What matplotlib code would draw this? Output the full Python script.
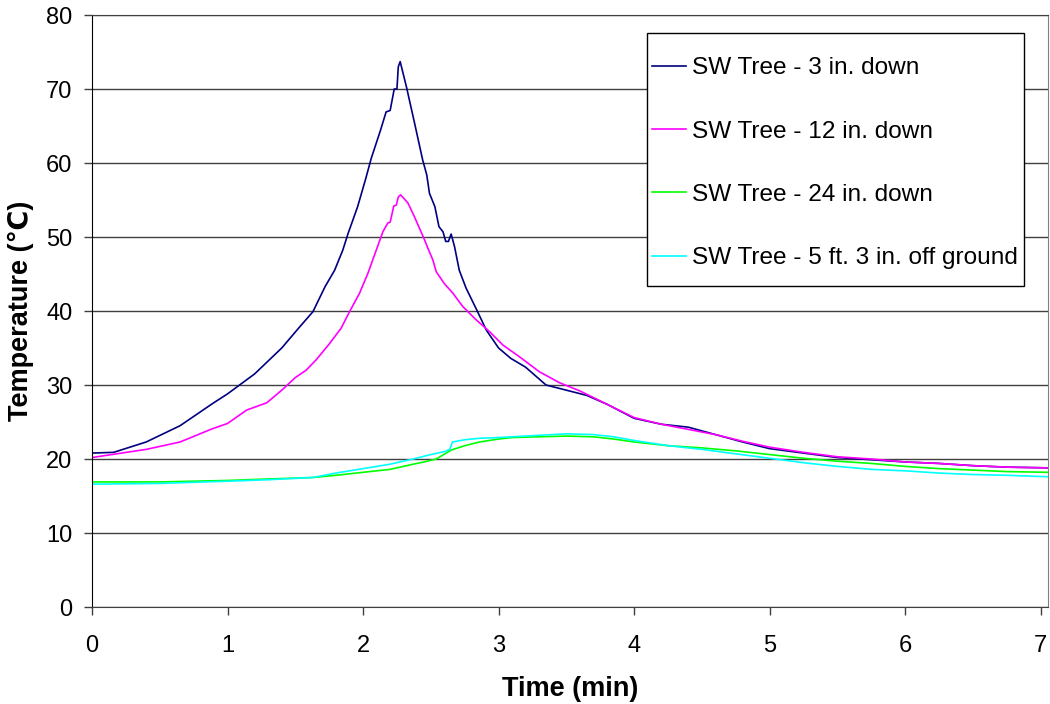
import matplotlib
matplotlib.use("Agg")
import matplotlib.pyplot as plt
from matplotlib.patches import Rectangle

plt.rcParams['font.family'] = ['Liberation Sans', 'DejaVu Sans']

labels = ["SW Tree - 3 in. down", "SW Tree - 12 in. down",
          "SW Tree - 24 in. down", "SW Tree - 5 ft. 3 in. off ground"]
colors = ["#000080", "#FF00FF", "#00FF00", "#00FFFF"]

t_3in = [0, 0.16, 0.4, 0.65, 0.89, 1.0, 1.2, 1.4, 1.53, 1.63, 1.72, 1.79, 1.85, 1.89,
         1.96, 2.02, 2.06, 2.13, 2.17, 2.20, 2.23, 2.25, 2.26, 2.274, 2.32, 2.38, 2.44,
         2.47, 2.49, 2.53, 2.56, 2.59, 2.61, 2.63, 2.65, 2.675, 2.71, 2.76, 2.84, 2.91,
         3.0, 3.09, 3.2, 3.35, 3.5, 3.65, 3.8, 4.0, 4.2, 4.4, 4.6, 4.8, 5.0, 5.25, 5.5,
         5.75, 6.0, 6.25, 6.5, 6.75, 7.06]
T_3in = [20.8, 20.9, 22.3, 24.5, 27.5, 28.8, 31.5, 35.0, 37.8, 39.9, 43.3, 45.5, 48.2, 50.5,
         54.1, 57.9, 60.6, 64.5, 66.9, 67.1, 70.0, 70.0, 73.0, 73.7, 70.3, 65.4, 60.4,
         58.4, 55.9, 54.1, 51.4, 50.7, 49.4, 49.4, 50.4, 48.7, 45.5, 43.1, 40.1, 37.4,
         35.0, 33.6, 32.4, 30.0, 29.3, 28.6, 27.4, 25.5, 24.7, 24.3, 23.3, 22.3, 21.4,
         20.8, 20.2, 19.9, 19.6, 19.4, 19.1, 18.9, 18.8]

t_12in = [0, 0.4, 0.65, 0.89, 1.0, 1.14, 1.29, 1.4, 1.5, 1.58, 1.654, 1.753, 1.839, 1.90,
          1.974, 2.036, 2.097, 2.146, 2.183, 2.20, 2.227, 2.245, 2.26, 2.277, 2.331, 2.38,
          2.454, 2.478, 2.515, 2.54, 2.60, 2.663, 2.736, 2.835, 2.934, 3.032, 3.155, 3.3,
          3.45, 3.6, 3.8, 4.0, 4.2, 4.4, 4.6, 4.8, 5.0, 5.25, 5.5, 5.75, 6.0, 6.25, 6.5,
          6.75, 7.06]
T_12in = [20.2, 21.3, 22.3, 24.1, 24.8, 26.6, 27.6, 29.3, 31.0, 32.0, 33.4, 35.6, 37.7, 39.9,
          42.4, 45.1, 48.2, 50.7, 51.9, 52.0, 54.2, 54.3, 55.4, 55.7, 54.6, 52.7,
          49.6, 48.5, 46.9, 45.3, 43.7, 42.4, 40.6, 38.8, 37.2, 35.4, 33.8, 31.8,
          30.3, 29.2, 27.4, 25.6, 24.7, 24.0, 23.3, 22.4, 21.6, 20.9, 20.3, 20.0, 19.6,
          19.4, 19.1, 18.9, 18.8]

t_24in = [0, 0.5, 1.0, 1.3, 1.63, 1.8, 2.0, 2.2, 2.37, 2.45, 2.54, 2.65, 2.75, 2.86, 3.0,
          3.1, 3.3, 3.5, 3.7, 3.85, 4.0, 4.25, 4.5, 4.75, 5.0, 5.25, 5.5, 5.75, 6.0, 6.25,
          6.5, 6.75, 7.06]
T_24in = [16.9, 16.9, 17.1, 17.3, 17.5, 17.8, 18.2, 18.6, 19.3, 19.6, 20.0, 21.2, 21.8, 22.3,
          22.7, 22.9, 23.0, 23.1, 23.0, 22.7, 22.3, 21.8, 21.5, 21.1, 20.6, 20.1, 19.7,
          19.4, 19.0, 18.7, 18.5, 18.3, 18.2]

t_5ft = [0, 0.5, 1.0, 1.3, 1.63, 1.8, 2.0, 2.2, 2.37, 2.5, 2.6, 2.64, 2.66, 2.75, 2.86, 3.0,
         3.1, 3.3, 3.5, 3.7, 3.85, 4.0, 4.25, 4.5, 4.75, 5.0, 5.25, 5.5, 5.75, 6.0, 6.25,
         6.5, 6.75, 7.06]
T_5ft = [16.6, 16.7, 17.0, 17.2, 17.5, 18.1, 18.7, 19.3, 20.0, 20.6, 21.0, 21.3, 22.3, 22.6,
         22.8, 22.9, 23.0, 23.2, 23.4, 23.3, 23.0, 22.5, 21.8, 21.3, 20.7, 20.1, 19.5,
         19.0, 18.6, 18.4, 18.1, 17.9, 17.8, 17.6]

x_ticks = [0, 1, 2, 3, 4, 5, 6, 7]
y_ticks = [0, 10, 20, 30, 40, 50, 60, 70, 80]

W, H = 1050, 704
fig = plt.figure(figsize=(W/100, H/100), dpi=100)
ax = fig.add_axes([92/W, (H-607)/H, (1048-92)/W, (607-15)/H])

series = [(t_3in, T_3in), (t_12in, T_12in), (t_24in, T_24in), (t_5ft, T_5ft)]
for (tt, TT), c, lab in zip(series, colors, labels):
    ax.plot(tt, TT, color=c, lw=1.2, label=lab)

ax.set_xlim(0, 7.054)
ax.set_ylim(0, 80)
ax.set_xticks(x_ticks)
ax.set_yticks(y_ticks)
ax.yaxis.grid(True, color="#404040", lw=1)
ax.set_axisbelow(True)
ax.tick_params(axis='both', labelsize=17, direction='out', length=6, width=1,
               color="#404040")
ax.tick_params(axis='y', pad=8)
ax.tick_params(axis='x', pad=14)
ax.spines['left'].set_color('black')
ax.spines['bottom'].set_color('#404040')
ax.spines['top'].set_color('#404040')
ax.spines['right'].set_color('#808080')

ax.set_xlabel("Time (min)", fontsize=19.5, fontweight='bold', labelpad=14)
ax.set_ylabel("Temperature (℃)", fontsize=19.5, fontweight='bold', labelpad=9)

# legend box
ax.add_patch(Rectangle((647/W, 1 - 286/H), (1024-647)/W, (286-33)/H,
                       transform=fig.transFigure, facecolor='white',
                       edgecolor='black', lw=1, zorder=5, clip_on=False))
leg = ax.legend(loc='upper left', bbox_to_anchor=(652/W, 1 - 57/H),
                bbox_transform=fig.transFigure, fontsize=17.6, frameon=False,
                labelspacing=1.69, handlelength=1.4, handletextpad=0.25,
                borderpad=0, borderaxespad=0)
leg.set_zorder(6)

fig.savefig("out.png", dpi=100)
